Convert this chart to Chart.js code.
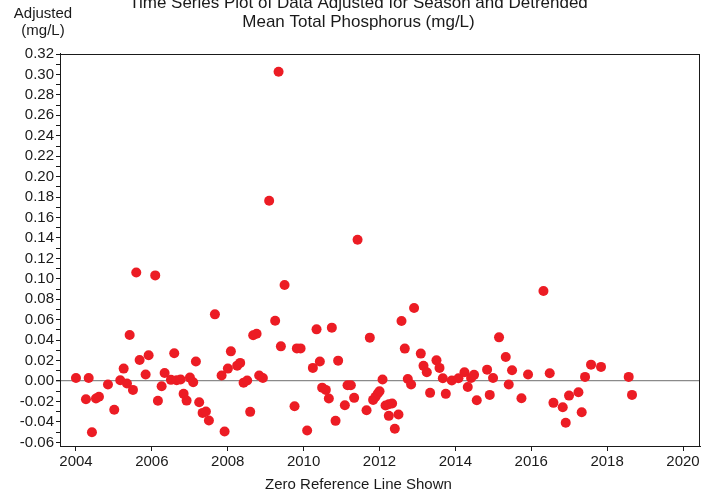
<!DOCTYPE html>
<html>
<head>
<meta charset="utf-8">
<script src="https://cdn.jsdelivr.net/npm/chart.js@4/dist/chart.umd.min.js"></script>
<style>
  html, body { margin: 0; padding: 0; background: #fff; }
  #wrap { width: 717px; height: 496px; }
</style>
</head>
<body>
<div id="wrap"><canvas id="c" width="717" height="496"></canvas></div>
<script>
// ---- data ----
const years = [
  2004.00, 2004.335, 2004.263, 2004.527, 2004.606, 2004.421, 2004.843, 2005.009, 2005.167, 2005.257,
  2005.344, 2005.415, 2005.502, 2005.589, 2005.678, 2005.836, 2005.915, 2006.089, 2006.160, 2006.258,
  2006.337, 2006.503, 2006.590, 2006.653, 2006.758, 2006.837, 2006.916, 2007.003, 2007.090, 2007.161,
  2007.248, 2007.338, 2007.425, 2007.504, 2007.662, 2007.838, 2007.917, 2008.004, 2008.083, 2008.249,
  2008.328, 2008.418, 2008.513, 2008.592, 2008.671, 2008.761, 2008.829, 2008.926, 2009.092, 2009.250,
  2009.340, 2009.401, 2009.498, 2009.761, 2009.822, 2009.920, 2010.093, 2010.244, 2010.341, 2010.428,
  2010.489, 2010.586, 2010.665, 2010.744, 2010.842, 2010.910, 2011.087, 2011.158, 2011.245, 2011.332,
  2011.422, 2011.659, 2011.745, 2011.832, 2011.896, 2011.956, 2012.001, 2012.080, 2012.159, 2012.246,
  2012.333, 2012.246, 2012.501, 2012.404, 2012.580, 2012.667, 2012.746, 2012.833, 2012.912, 2013.089,
  2013.160, 2013.247, 2013.334, 2013.502, 2013.582, 2013.669, 2013.748, 2013.906, 2014.082, 2014.240,
  2014.327, 2014.414, 2014.493, 2014.564, 2014.836, 2014.906, 2014.993, 2015.151, 2015.328, 2015.407,
  2015.494, 2015.742, 2015.916, 2016.322, 2016.487, 2016.585, 2016.830, 2016.909, 2016.996, 2017.244,
  2017.330, 2017.418, 2017.576, 2017.839, 2018.569, 2018.656
];
const adjustedValues = [
  0.0031, 0.0031, -0.0178, -0.0171, -0.0154, -0.0500, -0.0034, -0.0281, 0.0008, 0.0122,
  -0.0024, 0.0451, -0.0086, 0.1063, 0.0207, 0.0064, 0.0252, 0.1034, -0.0193, -0.0051,
  0.0080, 0.0012, 0.0272, 0.0008, 0.0015, -0.0125, -0.0191, 0.0034, -0.0012, 0.0191,
  -0.0207, -0.0311, -0.0298, -0.0386, 0.0653, 0.0054, -0.0493, 0.0122, 0.0291, 0.0151,
  0.0178, -0.0015, 0.0005, -0.0301, 0.0448, 0.0464, 0.0054, 0.0031, 0.1764, 0.0591,
  0.3027, 0.0340, 0.0940, -0.0246, 0.0320, 0.0320, -0.0484, 0.0129, 0.0506, 0.0191,
  -0.0064, -0.0086, -0.0171, 0.0523, -0.0389, 0.0200, -0.0236, -0.0041, -0.0041, -0.0164,
  0.1383, -0.0285, 0.0425, -0.0184, -0.0154, -0.0122, -0.0100, 0.0015, -0.0239, -0.0227,
  -0.0220, -0.0340, -0.0327, -0.0467, 0.0588, 0.0318, 0.0021, -0.0034, 0.0715, 0.0269,
  0.0149, 0.0086, -0.0115, 0.0203, 0.0129, 0.0027, -0.0125, 0.0005, 0.0027, 0.0086,
  -0.0057, 0.0031, 0.0061, -0.0188, 0.0112, -0.0135, 0.0031, 0.0428, 0.0236, -0.0034,
  0.0106, -0.0168, 0.0064, 0.0881, 0.0076, -0.0213, -0.0256, -0.0408, -0.0142, -0.0109,
  -0.0305, 0.0041, 0.0161, 0.0139, 0.0041, -0.0135
];
const xTickLabels = [2004, 2006, 2008, 2010, 2012, 2014, 2016, 2018, 2020];
const yTickLabels = ['-0.06','-0.04','-0.02','0.00','0.02','0.04','0.06','0.08','0.10','0.12','0.14',
                     '0.16','0.18','0.20','0.22','0.24','0.26','0.28','0.30','0.32'];
const titleLines = ['Time Series Plot of Data Adjusted for Season and Detrended', 'Mean Total Phosphorus (mg/L)'];
const yAxisTitle = ['Adjusted', '(mg/L)'];
const xAxisTitle = 'Zero Reference Line Shown';

// minor ticks every 0.01 between the labelled ones
const yMajor = yTickLabels.map(Number);
const yAllTicks = [];
for (let i = 0; i < yMajor.length; i++) {
  yAllTicks.push(yMajor[i]);
  if (i < yMajor.length - 1) yAllTicks.push(Math.round((yMajor[i] + yMajor[i + 1]) * 50) / 100);
}

const FONT = '"Liberation Sans", Arial, sans-serif';
const INK = '#1a1a1a';

const textPlugin = {
  id: 'texts',
  beforeDatasetsDraw(chart) {
    const { ctx, chartArea: a } = chart;
    ctx.save();
    ctx.strokeStyle = INK;
    ctx.lineWidth = 1;
    ctx.strokeRect(Math.round(a.left) + 0.5, Math.round(a.top) + 0.5,
                   Math.round(a.right - a.left) - 1, Math.round(a.bottom - a.top) - 1);
    ctx.restore();
  },
  afterDraw(chart) {
    const { ctx } = chart;
    ctx.save();
    ctx.fillStyle = INK;
    ctx.textAlign = 'center';
    ctx.textBaseline = 'middle';
    ctx.font = '17px ' + FONT;
    ctx.fillText(titleLines[0], 358.5, 3);
    ctx.fillText(titleLines[1], 358.5, 22.5);
    ctx.font = '15px ' + FONT;
    ctx.fillText(yAxisTitle[0], 43, 14);
    ctx.fillText(yAxisTitle[1], 43, 31);
    ctx.fillText(xAxisTitle, 358.5, 485);
    ctx.restore();
  }
};

new Chart(document.getElementById('c'), {
  type: 'scatter',
  data: {
    datasets: [{
      data: years.map((x, i) => ({ x: x, y: adjustedValues[i] })),
      backgroundColor: '#EC1C24',
      borderWidth: 0,
      pointRadius: 5,
      pointHoverRadius: 5
    }]
  },
  options: {
    responsive: false,
    animation: false,
    devicePixelRatio: 1,
    layout: { padding: { left: 0, top: 53.5, right: 17, bottom: 0 } },
    plugins: { legend: { display: false }, tooltip: { enabled: false }, title: { display: false } },
    scales: {
      x: {
        type: 'linear',
        min: 2003.579,
        max: 2020.448,
        afterBuildTicks: s => { s.ticks = xTickLabels.map(v => ({ value: v })); },
        afterFit: s => { s.height = 50; },
        ticks: {
          autoSkip: false, maxRotation: 0, color: INK, padding: 2,
          font: { family: FONT, size: 15 },
          callback: v => String(v)
        },
        grid: { drawOnChartArea: false, tickLength: 5, tickColor: INK, color: INK },
        border: { display: true, color: INK, width: 1 }
      },
      y: {
        type: 'linear',
        min: -0.0635,
        max: 0.3205,
        afterBuildTicks: s => { s.ticks = yAllTicks.map(v => ({ value: v })); },
        afterFit: s => { s.width = 60; },
        ticks: {
          autoSkip: false, color: INK, padding: 2,
          font: { family: FONT, size: 15 },
          callback: v => {
            const idx = yMajor.findIndex(m => Math.abs(m - v) < 1e-9);
            return idx >= 0 ? yTickLabels[idx] : '';
          }
        },
        grid: {
          drawOnChartArea: true,
          tickLength: 4,
          tickColor: INK,
          lineWidth: c => (c.tick && Math.abs(c.tick.value) < 1e-9) ? 1.3 : 1,
          color: c => (c.tick && Math.abs(c.tick.value) < 1e-9) ? '#8a8a8a' : 'rgba(0,0,0,0)'
        },
        border: { display: true, color: INK, width: 1 }
      }
    }
  },
  plugins: [textPlugin]
});
</script>
</body>
</html>
